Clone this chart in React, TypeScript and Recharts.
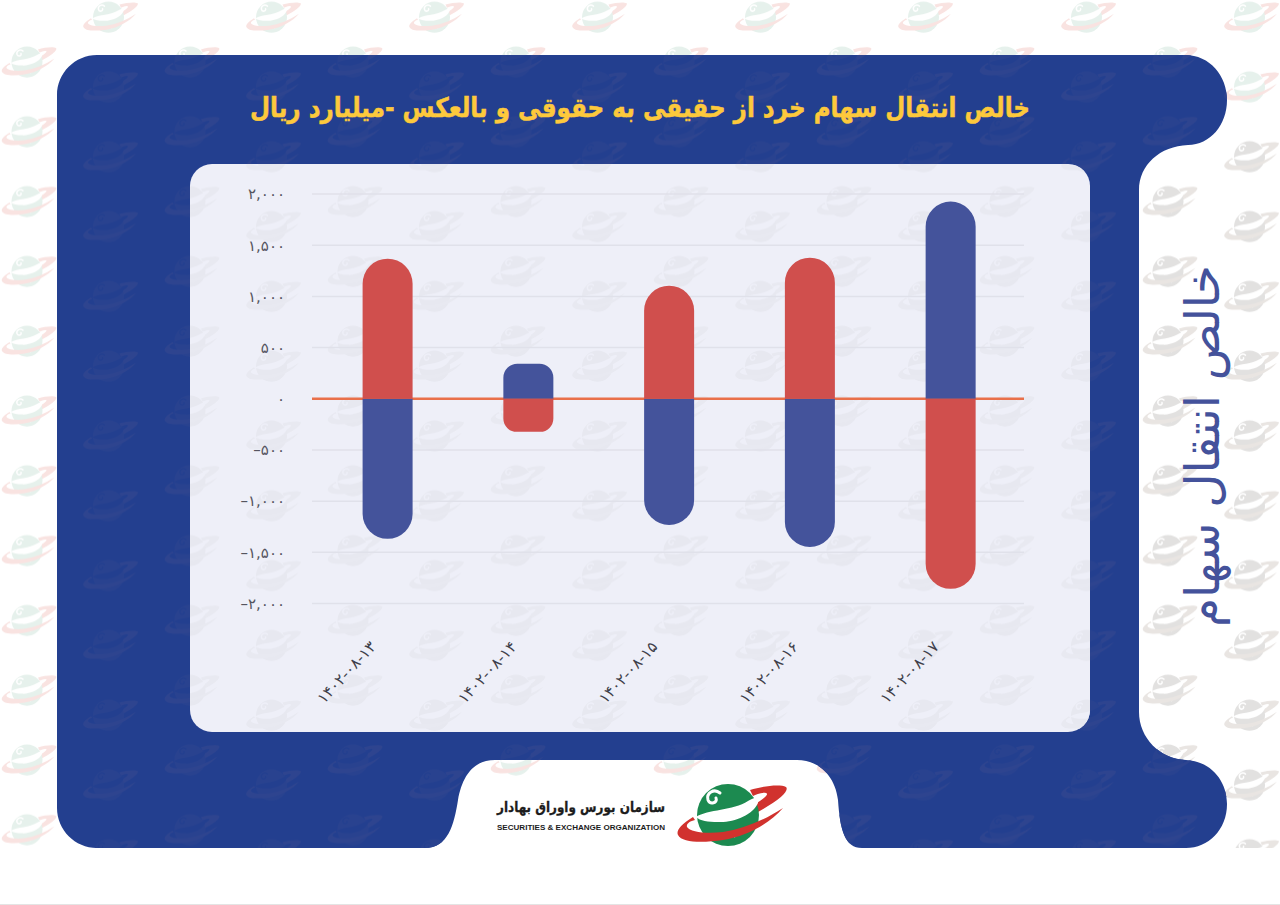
import React from 'react'
import { BarChart, Bar, XAxis, YAxis, CartesianGrid, ReferenceLine, Rectangle } from 'recharts'

const categories = ['۱۴۰۲-۰۸-۱۳', '۱۴۰۲-۰۸-۱۴', '۱۴۰۲-۰۸-۱۵', '۱۴۰۲-۰۸-۱۶', '۱۴۰۲-۰۸-۱۷']
const blueValues = [-1368, 342, -1232, -1447, 1926]
const redValues = [1368, -323, 1105, 1378, -1857]
const yTicks = [-2000, -1500, -1000, -500, 0, 500, 1000, 1500, 2000]
const yTickLabels = ['–۲,۰۰۰', '–۱,۵۰۰', '–۱,۰۰۰', '–۵۰۰', '۰', '۵۰۰', '۱,۰۰۰', '۱,۵۰۰', '۲,۰۰۰']

const data = categories.map((name, i) => ({ name, blue: blueValues[i], red: redValues[i] }))

const FONT = '"DejaVu Sans", sans-serif'
const PANEL = '#233f8f'
const INNER = '#eeeff8'

const PANEL_PATH =
  'M97,55 L1185,55 C1210,55 1227,76 1227,100 C1227,125 1210,145 1188,145 C1160,146 1139,165 1139,190 ' +
  'L1139,712 C1139,738 1160,759 1186,760 C1210,761 1227,780 1227,804 C1227,830 1208,848 1186,848 ' +
  'L862,848 C845,848 840,830 838,800 C835,775 818,760 797,760 L495,760 C472,760 462,778 458,800 C454,825 448,848 425,848 ' +
  'L97,848 C75,848 57,830 57,808 L57,95 C57,73 75,55 97,55 Z'

// planet + ring mark, drawn around the planet centre
function LogoMark({ planet, ring, swoosh }: { planet: string; ring: string; swoosh: string }) {
  return (
    <g>
      <path
        d="M22,-25 C35,-29 52,-31 58,-28 C62,-24 50,-12 12,6 L18,-6 C35,-15 42,-21 38,-22 C33,-23 28,-20 25,-19 Z"
        fill={ring}
      />
      <circle r={31} fill={planet} />
      <path
        d="M-32,2 C-20,-6 5,-4 20,-14 C28,-18 31,-20 30,-12 C25,0 5,8 -10,7 C-20,7 -28,6 -32,2 Z"
        fill={swoosh}
      />
      <path
        d="M-8,-22 C-14,-27 -22,-22 -20,-15 C-18,-10 -10,-12 -12,-17"
        fill="none"
        stroke={swoosh}
        strokeWidth={3}
        strokeLinecap="round"
      />
      <path d="M6,22 C12,14 20,14 26,12" fill="none" stroke={swoosh} strokeWidth={2} />
      <path
        d="M-35,2 C-48,10 -52,16 -50,20 C-46,28 -25,28 -5,25 C20,21 42,8 55,-7 C35,6 15,14 -5,17 C-22,19 -38,17 -41,12 C-42,9 -38,6 -33,5 Z"
        fill={ring}
      />
    </g>
  )
}

function WatermarkPattern({ id, planet, ring, swoosh }: { id: string; planet: string; ring: string; swoosh: string }) {
  const mark = <LogoMark planet={planet} ring={ring} swoosh={swoosh} />
  return (
    <pattern id={id} patternUnits="userSpaceOnUse" x={-13} y={32} width={163} height={69.8}>
      <g transform="translate(40,30) scale(0.5)">{mark}</g>
      <g transform="translate(121.5,55) scale(0.5)">{mark}</g>
      <g transform="translate(121.5,-14.8) scale(0.5)">{mark}</g>
    </pattern>
  )
}

function Backdrop() {
  return (
    <svg width={1280} height={905} style={{ position: 'absolute', left: 0, top: 0 }}>
      <defs>
        <WatermarkPattern id="wmColor" planet="#e6f1ec" ring="#f9e3e1" swoosh="#ffffff" />
        <WatermarkPattern id="wmGrey" planet="#e2e1e0" ring="#e9e5e2" swoosh="#ffffff" />
        <WatermarkPattern id="wmPanel" planet="#29428f" ring="#2e448f" swoosh={PANEL} />
        <WatermarkPattern id="wmInner" planet="#e7e8f0" ring="#e8e9f1" swoosh={INNER} />
      </defs>
      <rect width={1280} height={905} fill="#ffffff" />
      <rect width={1280} height={848} fill="url(#wmColor)" />
      <rect x={1130} y={120} width={150} height={728} fill="#ffffff" />
      <rect x={1130} y={120} width={150} height={728} fill="url(#wmGrey)" />
      {/* the sheet starts part way through the first row of marks */}
      <line x1={-3} y1={5} x2={1280} y2={5} stroke="#ffffff" strokeWidth={11} strokeDasharray="60 103" />
      {/* logo tab keeps only the top of the marks */}
      <rect x={420} y={777} width={430} height={71} fill="#ffffff" />
      <rect x={565} y={760} width={65} height={18} fill="#ffffff" />
      <rect x={730} y={760} width={60} height={18} fill="#ffffff" />
      <rect y={904} width={1280} height={1} fill="#e4e4e4" />
      <path d={PANEL_PATH} fill={PANEL} />
      <path d={PANEL_PATH} fill="url(#wmPanel)" />
      <rect x={190} y={164} width={900} height={568} rx={22} fill={INNER} />
      <rect x={190} y={164} width={900} height={568} rx={22} fill="url(#wmInner)" />

      <text
        x={640}
        y={117}
        textAnchor="middle"
        direction="rtl"
        fontFamily={FONT}
        fontWeight={700}
        fontSize={27}
        fill="#fdc93c"
        stroke="#fdc93c"
        strokeWidth={0.5}
        textLength={780}
        lengthAdjust="spacingAndGlyphs"
      >
        خالص انتقال سهام خرد از حقیقی به حقوقی و بالعکس -میلیارد ریال
      </text>

      <text
        transform="translate(1219,446) rotate(-90)"
        textAnchor="middle"
        direction="rtl"
        fontFamily={FONT}
        fontSize={47}
        fill="#44529b"
      >
        خالص انتقال سهام
      </text>

      <g transform="translate(728,815)">
        <LogoMark planet="#1c8a50" ring="#d1322e" swoosh="#ffffff" />
      </g>
      <text
        x={581}
        y={812}
        textAnchor="middle"
        direction="rtl"
        fontFamily={FONT}
        fontWeight={700}
        fontSize={14}
        fill="#1c1c1c"
        stroke="#1c1c1c"
        strokeWidth={0.3}
        textLength={168}
        lengthAdjust="spacingAndGlyphs"
      >
        سازمان بورس واوراق بهادار
      </text>
      <text
        x={497}
        y={830}
        fontFamily='"Liberation Sans", sans-serif'
        fontWeight={700}
        fontSize={7.5}
        fill="#1c1c1c"
        textLength={168}
        lengthAdjust="spacingAndGlyphs"
      >
        SECURITIES &amp; EXCHANGE  ORGANIZATION
      </text>
    </svg>
  )
}

function RoundedBar(props: any) {
  const r = Math.min(25, Math.abs(props.height) * 0.4)
  return <Rectangle {...props} radius={[r, r, 0, 0]} />
}

function DateTick({ x, y, payload }: any) {
  const ax = x - 11
  const ay = y + 36
  return (
    <text
      x={ax}
      y={ay}
      transform={`rotate(-47 ${ax} ${ay})`}
      textAnchor="end"
      direction="ltr"
      fontFamily={FONT}
      fontSize={15.5}
      fill="#3f3f4a"
    >
      {payload.value}
    </text>
  )
}

export default function App() {
  return (
    <div style={{ position: 'fixed', left: 0, top: 0, width: 1280, height: 905, overflow: 'hidden' }}>
      <Backdrop />
      <div style={{ position: 'absolute', left: 0, top: 0 }}>
        <BarChart
          width={1280}
          height={905}
          data={data}
          stackOffset="sign"
          barSize={50}
          margin={{ top: 194, right: 256, bottom: 241.5, left: 212 }}
        >
          <CartesianGrid horizontal vertical={false} stroke="#e0e1ea" strokeWidth={1.5} />
          <XAxis
            dataKey="name"
            height={60}
            padding={{ left: 5.6, right: 2.6 }}
            axisLine={false}
            tickLine={false}
            interval={0}
            tick={<DateTick />}
          />
          <YAxis
            width={100}
            type="number"
            domain={[-2000, 2000]}
            ticks={yTicks}
            axisLine={false}
            tickLine={false}
            tickMargin={21}
            tickFormatter={(v: number) => yTickLabels[yTicks.indexOf(v)]}
            tick={{ fontFamily: FONT, fontSize: 15, fill: '#55555f', direction: 'ltr' }}
          />
          <ReferenceLine y={0} stroke="#e9704a" strokeWidth={2.5} zIndex={100} />
          <Bar dataKey="blue" stackId="a" fill="#44539b" shape={RoundedBar} isAnimationActive={false} />
          <Bar dataKey="red" stackId="a" fill="#d04f4d" shape={RoundedBar} isAnimationActive={false} />
        </BarChart>
      </div>
    </div>
  )
}
